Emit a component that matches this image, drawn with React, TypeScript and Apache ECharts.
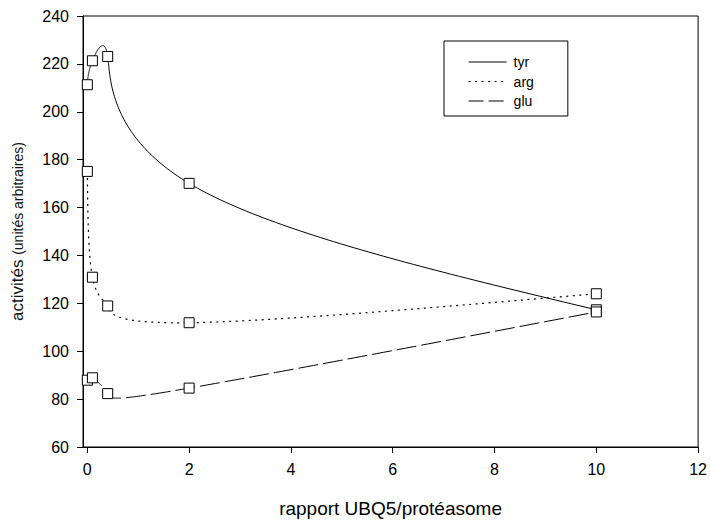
import React, { useEffect, useRef } from "react";
import * as echarts from "echarts";

const xValues = [0, 0.1, 0.4, 2, 10];
const tyr = [211.3, 221.3, 223.1, 170.1, 117.3];
const arg = [175.1, 130.9, 118.9, 111.9, 124.0];
const glu = [87.9, 88.9, 82.3, 84.6, 116.4];
const xTicks = [0, 2, 4, 6, 8, 10, 12];
const seriesNames = ["tyr", "arg", "glu"];

const FONT = "'Liberation Sans', Arial, sans-serif";

function pairs(ys: number[]) {
  return xValues.map((x, i) => [x, ys[i]]);
}

// natural cubic spline second derivatives, uniform parameter (t = index)
function secondDerivs(v: number[]): number[] {
  const n = v.length;
  const M = new Array(n).fill(0);
  if (n < 3) return M;
  const m = n - 2;
  const a = new Array(m).fill(1);
  const b = new Array(m).fill(4);
  const c = new Array(m).fill(1);
  const d = new Array(m);
  for (let i = 0; i < m; i++) d[i] = 6 * (v[i + 2] - 2 * v[i + 1] + v[i]);
  for (let i = 1; i < m; i++) {
    const w = a[i] / b[i - 1];
    b[i] -= w * c[i - 1];
    d[i] -= w * d[i - 1];
  }
  const sol = new Array(m);
  sol[m - 1] = d[m - 1] / b[m - 1];
  for (let i = m - 2; i >= 0; i--) sol[i] = (d[i] - c[i] * sol[i + 1]) / b[i];
  for (let i = 0; i < m; i++) M[i + 1] = sol[i];
  return M;
}

function splinePoints(pts: number[][], steps: number): number[][] {
  const xs = pts.map((p) => p[0]);
  const ys = pts.map((p) => p[1]);
  const Mx = secondDerivs(xs);
  const My = secondDerivs(ys);
  const out: number[][] = [];
  const evalSeg = (v: number[], M: number[], i: number, s: number) => {
    const A = 1 - s;
    return A * v[i] + s * v[i + 1] + ((A * A * A - A) * M[i] + (s * s * s - s) * M[i + 1]) / 6;
  };
  for (let i = 0; i < pts.length - 1; i++) {
    for (let k = 0; k < steps; k++) {
      const s = k / steps;
      out.push([evalSeg(xs, Mx, i, s), evalSeg(ys, My, i, s)]);
    }
  }
  out.push(pts[pts.length - 1]);
  return out;
}

export default function App() {
  const ref = useRef<HTMLDivElement>(null);
  useEffect(() => {
    if (!ref.current) return;
    const chart = echarts.init(ref.current, undefined, { renderer: "svg" });
    const dashes: any[] = ["solid", [2, 4.5], [20, 5]];
    const widths = [1, 1.2, 1];
    const allValues = [tyr, arg, glu];

    const curveSeries = allValues.map((ys, si) => ({
      type: "custom",
      name: seriesNames[si] + "-curve",
      data: pairs(ys),
      z: 2,
      silent: true,
      renderItem: (params: any, api: any) => {
        if (params.dataIndex !== 0) return null;
        const px = pairs(ys).map((p) => api.coord(p));
        const points = splinePoints(px, 60);
        return {
          type: "polyline",
          shape: { points },
          style: {
            fill: "none",
            stroke: "#000",
            lineWidth: widths[si],
            lineDash: dashes[si] === "solid" ? null : dashes[si],
          },
        };
      },
    }));

    const markerSeries = allValues.map((ys, si) => ({
      name: seriesNames[si],
      type: "line",
      data: pairs(ys),
      symbol: "rect",
      symbolSize: 10,
      showSymbol: true,
      itemStyle: { color: "#fff", borderColor: "#000", borderWidth: 1 },
      lineStyle: { color: "#000", width: widths[si], type: dashes[si], opacity: 0 },
      z: 3,
    }));

    const legendDash: any[] = ["solid", [2, 4.5], [15, 5]];

    chart.setOption({
      animation: false,
      backgroundColor: "#fff",
      textStyle: { fontFamily: FONT },
      grid: {
        left: 83,
        top: 16,
        right: 7,
        bottom: 74,
        show: true,
        borderColor: "#000",
        borderWidth: 1,
        backgroundColor: "transparent",
      },
      legend: {
        orient: "vertical",
        left: 444,
        top: 41,
        padding: [14, 34, 8, 24],
        itemWidth: 38,
        itemHeight: 14,
        itemGap: 5.5,
        borderColor: "#000",
        borderWidth: 1,
        itemStyle: { opacity: 0 },
        textStyle: { fontSize: 14, color: "#000", fontFamily: FONT, padding: [0, 0, 0, 2] },
        data: seriesNames.map((n, i) => ({
          name: n,
          lineStyle: { color: "#000", width: widths[i], type: legendDash[i], opacity: 1 },
        })),
      },
      xAxis: {
        type: "value",
        min: -0.085,
        max: 12,
        name: "rapport UBQ5/protéasome",
        nameLocation: "middle",
        nameGap: 52,
        nameTextStyle: { fontSize: 19, color: "#000", fontFamily: FONT, fontWeight: "normal" },
        axisLine: { show: true, onZero: false, lineStyle: { color: "#000", width: 1 } },
        axisTick: { show: true, inside: false, length: 6, customValues: xTicks, lineStyle: { color: "#000" } },
        axisLabel: { customValues: xTicks, fontSize: 16, color: "#000", margin: 14, fontFamily: FONT },
        splitLine: { show: false },
      },
      yAxis: {
        type: "value",
        min: 60,
        max: 240,
        interval: 20,
        name: "{a|activités} {b|(unités arbitraires)}",
        nameLocation: "middle",
        nameRotate: 90,
        nameGap: 57,
        nameTextStyle: {
          color: "#111",
          fontFamily: FONT,
          fontWeight: "normal",
          fontSize: 17,
          rich: {
            a: { fontSize: 17, fontFamily: FONT, color: "#111", fontWeight: "normal" },
            b: { fontSize: 14, fontFamily: FONT, color: "#111", fontWeight: "normal" },
          },
        },
        axisLine: { show: true, onZero: false, lineStyle: { color: "#000", width: 1 } },
        axisTick: { show: true, inside: false, length: 6, lineStyle: { color: "#000" } },
        axisLabel: { fontSize: 16, color: "#000", margin: 14, fontFamily: FONT },
        splitLine: { show: false },
      },
      series: [...curveSeries, ...markerSeries],
    });
    return () => chart.dispose();
  }, []);
  return <div ref={ref} style={{ width: 710, height: 523, position: "absolute", left: 0, top: 0 }} />;
}
